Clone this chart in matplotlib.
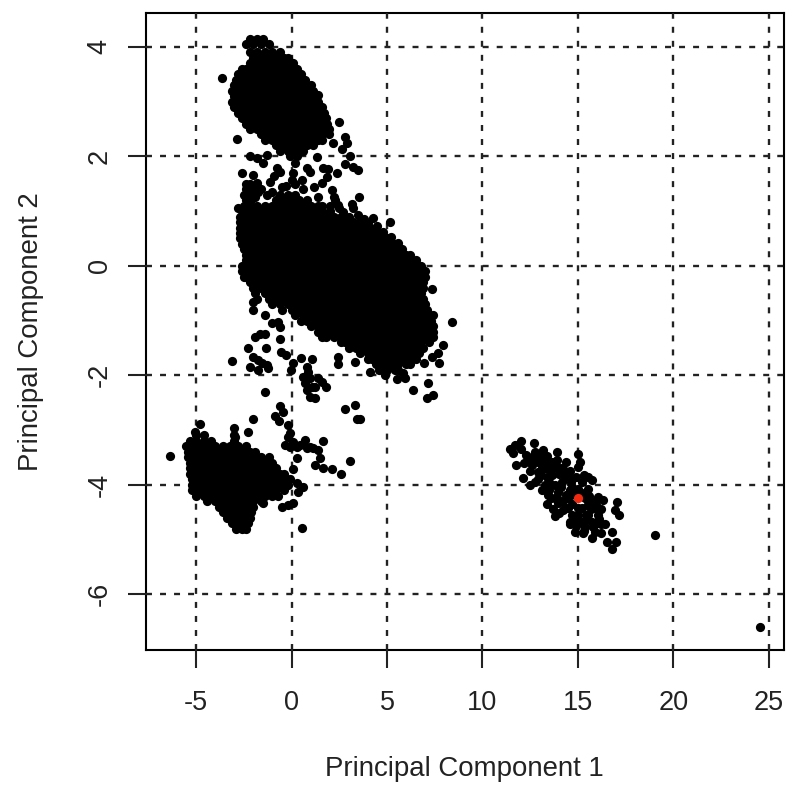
import matplotlib
matplotlib.use("Agg")
import matplotlib.pyplot as plt

plt.rcParams['font.family'] = ['Liberation Sans', 'DejaVu Sans']
plt.rcParams['lines.scale_dashes'] = False
plt.rcParams['axes.unicode_minus'] = False

x_ticks = [-5, 0, 5, 10, 15, 20, 25]
y_ticks = [-6, -4, -2, 0, 2, 4]
x_label = "Principal Component 1"
y_label = "Principal Component 2"

upper_pc2 = [4.15, 4.05, 3.9, 3.8, 3.7, 3.6, 3.5, 3.4, 3.3, 3.2, 3.1, 3.0, 2.9, 2.8, 2.7, 2.6, 2.5, 2.4, 2.3, 2.2, 2.1, 2.0]
upper_pc1 = [
 [-2.2,-1.8,-1.5],
 [-2.4,-2.0,-1.6,-1.2],
 [-2.2,-1.8,-1.4,-1.0,-0.6],
 [-2.0,-1.6,-1.2,-0.8,-0.4,-0.2],
 [-2.2,-1.8,-1.4,-1.0,-0.6,-0.2,0.1],
 [-2.6,-2.4,-2.0,-1.6,-1.2,-0.8,-0.4,0.0,0.3],
 [-2.8,-2.6,-2.2,-1.8,-1.4,-1.0,-0.6,-0.2,0.2,0.5],
 [-2.9,-2.8,-2.4,-2.0,-1.6,-1.2,-0.8,-0.4,0.0,0.4,0.7],
 [-3.0,-2.6,-2.2,-1.8,-1.4,-1.0,-0.6,-0.2,0.2,0.6,1.0],
 [-3.1,-2.8,-2.4,-2.0,-1.6,-1.2,-0.8,-0.4,0.0,0.4,0.8,1.1],
 [-3.0,-2.6,-2.2,-1.8,-1.4,-1.0,-0.6,-0.2,0.2,0.6,1.0,1.3],
 [-3.1,-2.8,-2.4,-2.0,-1.6,-1.2,-0.8,-0.4,0.0,0.4,0.8,1.2,1.4],
 [-3.0,-2.6,-2.2,-1.8,-1.4,-1.0,-0.6,-0.2,0.2,0.6,1.0,1.4,1.6],
 [-2.8,-2.4,-2.0,-1.6,-1.2,-0.8,-0.4,0.0,0.4,0.8,1.2,1.6,1.7],
 [-2.6,-2.2,-1.8,-1.4,-1.0,-0.6,-0.2,0.2,0.6,1.0,1.4,1.8],
 [-2.4,-2.0,-1.6,-1.2,-0.8,-0.4,0.0,0.4,0.8,1.2,1.6,1.85],
 [-2.2,-1.8,-1.4,-1.0,-0.6,-0.2,0.2,0.6,1.0,1.4,1.8,1.95],
 [-1.6,-1.2,-0.8,-0.4,0.0,0.4,0.8,1.2,1.6,1.95],
 [-1.4,-1.0,-0.6,-0.2,0.2,0.6,1.0,1.4,1.6],
 [-0.8,-0.4,0.0,0.4,0.8,1.1],
 [-0.6,-0.2,0.2,0.6],
 [-0.1,0.3],
]

middle_pc2 = [1.3, 1.2, 1.1, 1.0, 0.9, 0.8, 0.7, 0.6, 0.5, 0.4, 0.3, 0.2, 0.1, 0.0, -0.1, -0.2, -0.3, -0.4, -0.5, -0.6, -0.7, -0.8, -0.9, -1.0, -1.1, -1.2, -1.3, -1.4, -1.5, -1.6, -1.7, -1.8, -1.9]
middle_pc1 = [
 [-2.5,-2.2,-0.6,-0.2,0.2],
 [-2.4,-2.1,-0.8,-0.4,0.0,0.4,0.8],
 [-2.5,-2.2,-1.8,-1.4,-1.0,-0.6,-0.2,0.2,0.6,1.0,1.4,1.6],
 [-2.6,-2.4,-2.0,-1.6,-1.2,-0.8,-0.4,0.0,0.4,0.8,1.2,1.6,2.0],
 [-2.7,-2.6,-2.2,-1.8,-1.4,-1.0,-0.6,-0.2,0.2,0.6,1.0,1.4,1.8,2.2,2.6,3.0],
 [-2.7,-2.4,-2.0,-1.6,-1.2,-0.8,-0.4,0.0,0.4,0.8,1.2,1.6,2.0,2.4,2.8,3.2,3.6],
 [-2.7,-2.6,-2.2,-1.8,-1.4,-1.0,-0.6,-0.2,0.2,0.6,1.0,1.4,1.8,2.2,2.6,3.0,3.4,3.8,4.1],
 [-2.7,-2.4,-2.0,-1.6,-1.2,-0.8,-0.4,0.0,0.4,0.8,1.2,1.6,2.0,2.4,2.8,3.2,3.6,4.0,4.4,4.6],
 [-2.7,-2.6,-2.2,-1.8,-1.4,-1.0,-0.6,-0.2,0.2,0.6,1.0,1.4,1.8,2.2,2.6,3.0,3.4,3.8,4.2,4.6,5.0],
 [-2.6,-2.4,-2.0,-1.6,-1.2,-0.8,-0.4,0.0,0.4,0.8,1.2,1.6,2.0,2.4,2.8,3.2,3.6,4.0,4.4,4.8,5.2,5.4],
 [-2.5,-2.2,-1.8,-1.4,-1.0,-0.6,-0.2,0.2,0.6,1.0,1.4,1.8,2.2,2.6,3.0,3.4,3.8,4.2,4.6,5.0,5.4,5.8],
 [-2.4,-2.0,-1.6,-1.2,-0.8,-0.4,0.0,0.4,0.8,1.2,1.6,2.0,2.4,2.8,3.2,3.6,4.0,4.4,4.8,5.2,5.6,6.0,6.2],
 [-2.4,-2.2,-1.8,-1.4,-1.0,-0.6,-0.2,0.2,0.6,1.0,1.4,1.8,2.2,2.6,3.0,3.4,3.8,4.2,4.6,5.0,5.4,5.8,6.2,6.5],
 [-2.6,-2.4,-2.0,-1.6,-1.2,-0.8,-0.4,0.0,0.4,0.8,1.2,1.6,2.0,2.4,2.8,3.2,3.6,4.0,4.4,4.8,5.2,5.6,6.0,6.4,6.8],
 [-2.6,-2.2,-1.8,-1.4,-1.0,-0.6,-0.2,0.2,0.6,1.0,1.4,1.8,2.2,2.6,3.0,3.4,3.8,4.2,4.6,5.0,5.4,5.8,6.2,6.6,7.0],
 [-2.5,-2.4,-2.0,-1.6,-1.2,-0.8,-0.4,0.0,0.4,0.8,1.2,1.6,2.0,2.4,2.8,3.2,3.6,4.0,4.4,4.8,5.2,5.6,6.0,6.4,6.8,7.0],
 [-2.2,-1.8,-1.4,-1.0,-0.6,-0.2,0.2,0.6,1.0,1.4,1.8,2.2,2.6,3.0,3.4,3.8,4.2,4.6,5.0,5.4,5.8,6.2,6.6,6.9],
 [-2.0,-1.6,-1.2,-0.8,-0.4,0.0,0.4,0.8,1.2,1.6,2.0,2.4,2.8,3.2,3.6,4.0,4.4,4.8,5.2,5.6,6.0,6.4,6.8,6.9],
 [-1.9,-1.4,-1.0,-0.6,-0.2,0.2,0.6,1.0,1.4,1.8,2.2,2.6,3.0,3.4,3.8,4.2,4.6,5.0,5.4,5.8,6.2,6.6,6.8],
 [-1.8,-1.2,-0.8,-0.4,0.0,0.4,0.8,1.2,1.6,2.0,2.4,2.8,3.2,3.6,4.0,4.4,4.8,5.2,5.6,6.0,6.4,6.8,6.9],
 [-1.0,-0.6,-0.2,0.2,0.6,1.0,1.4,1.8,2.2,2.6,3.0,3.4,3.8,4.2,4.6,5.0,5.4,5.8,6.2,6.6,7.0],
 [-0.5,0.0,0.4,0.8,1.2,1.6,2.0,2.4,2.8,3.2,3.6,4.0,4.4,4.8,5.2,5.6,6.0,6.4,6.8,7.1],
 [0.2,0.6,1.0,1.4,1.8,2.2,2.6,3.0,3.4,3.8,4.2,4.6,5.0,5.4,5.8,6.2,6.6,7.0,7.2],
 [0.5,0.8,1.2,1.6,2.0,2.4,2.8,3.2,3.6,4.0,4.4,4.8,5.2,5.6,6.0,6.4,6.8,7.2,7.3],
 [1.0,1.4,1.8,2.2,2.6,3.0,3.4,3.8,4.2,4.6,5.0,5.4,5.8,6.2,6.6,7.0,7.4],
 [1.4,1.6,2.0,2.4,2.8,3.2,3.6,4.0,4.4,4.8,5.2,5.6,6.0,6.4,6.8,7.2,7.4],
 [1.6,1.8,2.2,2.6,3.0,3.4,3.8,4.2,4.6,5.0,5.4,5.8,6.2,6.6,7.0,7.4],
 [2.6,2.8,3.2,3.6,4.0,4.4,4.8,5.2,5.6,6.0,6.4,6.8,7.2],
 [3.0,3.4,3.8,4.2,4.6,5.0,5.4,5.8,6.2,6.6,6.9],
 [3.6,4.0,4.4,4.8,5.2,5.6,6.0,6.4,6.7],
 [4.0,4.2,4.6,5.0,5.4,5.8,6.2,6.5],
 [4.4,4.8,5.2,5.6,6.0,6.2],
 [4.6,5.0,5.4,5.6],
]

lower_pc2 = [-3.1, -3.2, -3.3, -3.4, -3.5, -3.6, -3.7, -3.8, -3.9, -4.0, -4.1, -4.2, -4.3, -4.4, -4.5, -4.6, -4.7, -4.8]
lower_pc1 = [
 [-5.0,-4.6,-3.0],
 [-5.3,-5.0,-4.6,-4.2,-3.0],
 [-5.5,-5.2,-4.8,-4.4,-4.0,-3.6,-3.2,-2.8,-2.4],
 [-5.4,-5.0,-4.6,-4.2,-3.8,-3.4,-3.0,-2.6,-2.2,-1.9],
 [-5.4,-5.2,-4.8,-4.4,-4.0,-3.6,-3.2,-2.8,-2.4,-2.0,-1.6,-1.2],
 [-5.3,-5.0,-4.6,-4.2,-3.8,-3.4,-3.0,-2.6,-2.2,-1.8,-1.4,-1.0],
 [-5.3,-5.2,-4.8,-4.4,-4.0,-3.6,-3.2,-2.8,-2.4,-2.0,-1.6,-1.2,-0.8],
 [-5.3,-5.0,-4.6,-4.2,-3.8,-3.4,-3.0,-2.6,-2.2,-1.8,-1.4,-1.0,-0.6,-0.4],
 [-5.2,-4.8,-4.4,-4.0,-3.6,-3.2,-2.8,-2.4,-2.0,-1.6,-1.2,-0.8,-0.4,-0.1],
 [-5.2,-5.0,-4.6,-4.2,-3.8,-3.4,-3.0,-2.6,-2.2,-1.8,-1.4,-1.0,-0.6,-0.2],
 [-5.2,-4.8,-4.4,-4.0,-3.6,-3.2,-2.8,-2.4,-2.0,-1.6,-1.2,-0.8,-0.4],
 [-5.0,-4.6,-4.2,-3.8,-3.4,-3.0,-2.6,-2.2,-1.8,-1.4,-1.0,-0.7],
 [-4.4,-4.0,-3.6,-3.2,-2.8,-2.4,-2.0,-1.6],
 [-3.8,-3.4,-3.0,-2.6,-2.2,-2.0],
 [-3.6,-3.2,-2.8,-2.4,-2.1],
 [-3.4,-3.0,-2.6,-2.2],
 [-3.1,-2.8,-2.4,-2.3],
 [-2.9,-2.6,-2.4],
]

scatter_pc1 = [-3.11,-2.0,-2.0,-1.39,-1.02,-0.71,-0.6,-1.9,-1.65,-1.39,-0.6,-2.28,-1.34,-2.0,-1.75,-1.54,-2.17,-1.75,-1.28,-1.23,-0.55,-0.29,0.08,-0.03,0.5,1.07,
 0.81,0.86,0.6,0.97,0.71,1.07,0.81,0.97,1.23,1.39,1.6,1.23,1.81,2.43,2.43,3.32,2.8,3.32,-1.39,-0.6,-0.86,-0.45,
 8.4,7.93,7.67,7.36,7.72,6.94,7.15,7.41,7.09,6.36,5.94,5.52,5.84,4.9,4.11,7.36,7.41,5.16,4.27,3.53,3.17,2.12,2.23,2.43,-2.8,
 -3.64,-2.85,2.49,2.8,2.9,2.17,2.64,3.06,2.8,3.22,3.48,1.39,2.38,1.65,1.91,1.86,1.6,1.18,0.81,0.97,1.34,-2.17,-1.81,-1.49,-1.28,-0.76,-0.6,0.18,0.08,0.03,0.55,-2.59,-2.02,-1.81,-1.13,-0.5,-1.75,-2.17,
 -6.36,-4.79,-5.05,-3.01,-2.96,-2.02,-2.28,-0.65,-0.18,3.43,3.59,1.65,3.06,2.59,0.08,0.55,
 -0.08,-0.34,0.08,0.29,0.71,1.13,0.81,1.39,0.29,1.49,1.23,1.65,2.12,-0.18,-0.08,0.45,0.97,
 0.29,0.6,0.34,0.08,-0.5,-0.18,-1.49,19.03,24.53,
 -2.4,-2.2,-2.0,-2.4,-2.1,-1.9,-1.6,-1.3,-1.0,-0.9,-0.3,0.2,0.6,1.4,2.0,2.3,2.5,2.7,3.2,3.5,3.8,4.0,4.5,4.8,5.2,5.6]
scatter_pc2 = [-1.74,-0.66,-0.81,-0.9,-1.05,-1.03,-1.12,-1.3,-1.25,-1.25,-1.34,-1.5,-1.5,-1.67,-1.72,-1.78,-1.85,-1.9,-1.81,-1.87,-1.58,-1.63,-1.78,-1.9,-1.69,-1.7,
 -1.85,-1.94,-2.03,-2.05,-2.14,-2.22,-2.27,-2.4,-2.42,-2.05,-2.12,-2.22,-2.22,-1.67,-1.8,-1.76,-2.62,-2.54,-2.31,-2.56,-2.75,-2.67,
 -1.03,-1.45,-1.59,-1.67,-1.78,-1.78,-2.14,-2.36,-2.42,-2.27,-2.05,-2.07,-1.96,-2.0,-1.94,-0.42,-0.9,0.8,0.87,1.26,1.13,1.39,1.26,1.11,1.06,
 3.43,2.32,2.63,2.35,2.24,2.24,2.14,2.0,1.86,1.81,1.75,3.12,1.7,1.79,1.77,1.62,1.51,1.44,1.79,1.71,1.99,2.0,1.97,1.88,2.03,1.79,1.71,1.88,1.7,1.57,1.57,1.7,1.66,1.51,1.53,1.44,1.35,1.39,
 -3.48,-2.89,-3.04,-2.97,-3.13,-2.8,-3.04,-2.84,-2.91,-2.8,-2.8,-3.2,-3.57,-3.81,-3.71,-4.79,
 -3.06,-3.28,-3.22,-3.31,-3.18,-3.33,-3.33,-3.37,-3.51,-3.51,-3.64,-3.7,-3.71,-3.13,-3.31,-3.28,-3.31,
 -3.97,-4.04,-4.14,-4.34,-4.41,-4.37,-4.34,-4.92,-6.6,
 1.5,1.5,1.4,1.4,1.45,1.25,1.4,1.3,1.35,1.65,1.45,1.5,1.4,1.25,1.1,1.2,1.05,0.98,1.05,0.92,0.86,0.78,0.72,0.62,0.52,0.42]

right_pc1 = [11.44,11.7,12.01,11.78,12.13,12.71,13.18,13.88,15.01,15.1,15.01,14.35,15.71,12.74,12.92,13.27,13.62,14.14,14.49,12.57,12.74,13.27,13.09,13.62,14.14,14.66,15.19,15.54,13.44,13.97,14.49,15.01,13.79,14.23,13.97,14.49,15.01,15.54,16.06,16.32,15.89,15.36,14.58,14.84,15.19,15.71,15.54,16.06,15.97,15.71,15.27,16.23,16.41,16.76,16.5,16.97,16.76,17.02,16.93,17.14,12.4,12.92,13.79,13.7,12.48,13.27,14.84,15.19,14.84,15.36,15.9,
 11.6,12.0,12.3,12.6,13.0,13.4,13.5,13.9,14.0,14.3,14.6,14.7,14.9,15.3,15.5,13.1,13.5,13.8,14.2,14.7,15.2,15.6,15.9,15.0,15.4,15.7,16.0,14.9,15.3,15.5,16.1,16.2,
 12.2,12.5,12.9,13.1,13.4,13.5,13.7,14.0,14.3,14.6,14.1,14.4,13.6,13.9,14.3,13.4,13.7,14.0,14.7,15.4,15.8,16.2,14.6,14.9]
right_pc2 = [-3.35,-3.28,-3.2,-3.64,-3.88,-3.24,-3.37,-3.4,-3.43,-3.58,-3.67,-3.58,-3.91,-3.4,-3.58,-3.58,-3.58,-3.7,-3.82,-3.64,-3.95,-4.01,-3.82,-3.82,-3.95,-3.95,-3.95,-4.07,-4.19,-4.13,-4.25,-4.07,-4.57,-4.46,-4.34,-4.43,-4.43,-4.37,-4.22,-4.28,-4.43,-4.25,-4.69,-4.86,-4.68,-4.68,-4.55,-4.55,-4.37,-4.98,-4.89,-4.89,-4.71,-4.87,-5.05,-5.05,-5.18,-4.31,-4.46,-4.55,-3.52,-3.76,-4.01,-3.7,-4.01,-3.7,-4.19,-4.43,-4.62,-4.77,-4.86,
 -3.42,-3.35,-3.45,-3.5,-3.48,-3.47,-3.72,-3.55,-3.8,-3.85,-3.75,-4.05,-3.85,-3.82,-3.85,-4.1,-3.95,-4.25,-4.3,-4.35,-4.15,-4.2,-4.3,-4.55,-4.55,-4.45,-4.7,-4.75,-4.85,-4.3,-4.62,-4.45,
 -3.6,-3.75,-3.9,-3.65,-3.85,-4.1,-3.62,-3.7,-3.75,-4.1,-4.05,-4.18,-4.25,-4.25,-4.42,-4.35,-4.45,-4.52,-4.55,-4.65,-4.78,-4.72,-4.72,-4.7]

highlight_pc1 = [15.01]
highlight_pc2 = [-4.24]


def flatten(rows_y, rows_x):
    xs, ys = [], []
    for yv, row in zip(rows_y, rows_x):
        xs.extend(row)
        ys.extend([yv] * len(row))
    return xs, ys


W, H = 788, 789
fig = plt.figure(figsize=(W / 100, H / 100), dpi=100)
ax = fig.add_axes([146 / W, 1 - 650 / H, (784 - 146) / W, (650 - 13) / H])
ax.set_xlim(-7.62, 25.79)
ax.set_ylim(-7.02, 4.62)

size = 44
for ys, xs in [(upper_pc2, upper_pc1), (middle_pc2, middle_pc1), (lower_pc2, lower_pc1)]:
    px, py = flatten(ys, xs)
    ax.scatter(px, py, s=size, c='black', linewidths=0, zorder=3)
ax.scatter(scatter_pc1, scatter_pc2, s=size, c='black', linewidths=0, zorder=3)
ax.scatter(right_pc1, right_pc2, s=size, c='black', linewidths=0, zorder=3)
ax.scatter(highlight_pc1, highlight_pc2, s=size, c='#f02a10', linewidths=0, zorder=4)

ax.set_xticks(x_ticks)
ax.set_yticks(y_ticks)
ax.grid(True, color='#222222', linewidth=1.7, linestyle=(0, (4.3, 5.8)), zorder=2)
ax.set_axisbelow(False)
for s in ax.spines.values():
    s.set_linewidth(1.5)
ax.tick_params(axis='both', length=13, width=1.5, labelsize=19.5, color='#222222', labelcolor='#222222')
ax.tick_params(axis='x', pad=16)
ax.tick_params(axis='y', pad=11)
for lb in ax.get_yticklabels():
    lb.set_rotation(90)
    lb.set_va('center')

fig.text(464 / W, 1 - 769 / H, x_label, ha='center', va='center', fontsize=19.9, color='#222222')
fig.text(31 / W, 1 - 332 / H, y_label, ha='center', va='center', rotation=90, fontsize=19.9, color='#222222')

fig.savefig('out.png', dpi=100)
